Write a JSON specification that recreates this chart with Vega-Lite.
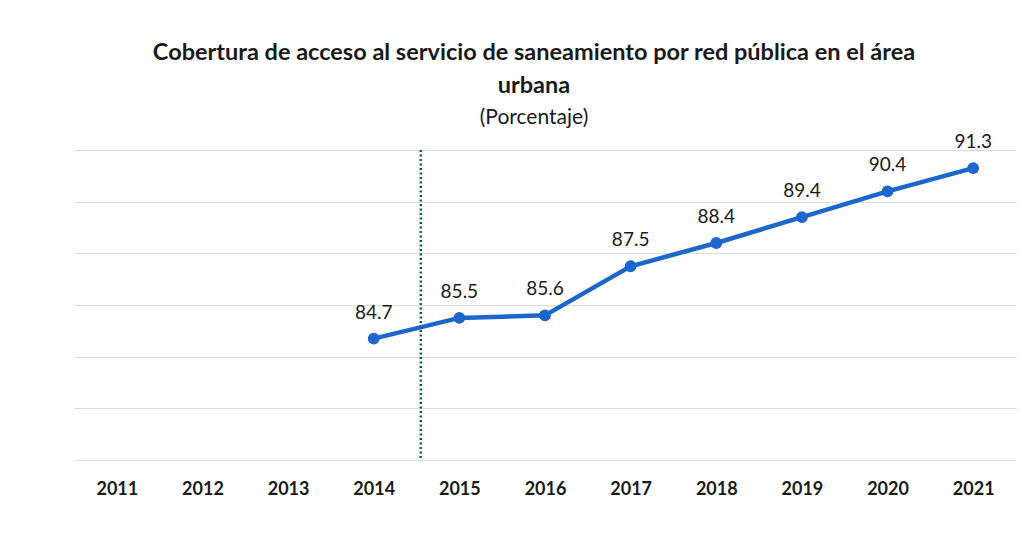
{
  "$schema": "https://vega.github.io/schema/vega-lite/v6.json",
  "width": 942,
  "height": 310,
  "autosize": {"type": "none"},
  "padding": {"left": 74, "top": 150, "right": 13, "bottom": 94},
  "background": "white",
  "title": {
    "text": ["Cobertura de acceso al servicio de saneamiento por red pública en el área", "urbana"],
    "subtitle": "(Porcentaje)",
    "anchor": "middle",
    "dx": -11,
    "font": "Lato",
    "fontSize": 23.5,
    "fontWeight": "bold",
    "color": "#1a1a1a",
    "lineHeight": 33,
    "subtitleFont": "Lato",
    "subtitleFontSize": 21,
    "subtitleColor": "#1a1a1a",
    "subtitlePadding": 10,
    "offset": 5
  },
  "datasets": {
    "serie": [
      {"anio": 2014, "valor": 84.7},
      {"anio": 2015, "valor": 85.5},
      {"anio": 2016, "valor": 85.6},
      {"anio": 2017, "valor": 87.5},
      {"anio": 2018, "valor": 88.4},
      {"anio": 2019, "valor": 89.4},
      {"anio": 2020, "valor": 90.4},
      {"anio": 2021, "valor": 91.3}
    ],
    "corte": [{"anio": 2014.55}]
  },
  "layer": [
    {
      "data": {"name": "corte"},
      "mark": {"type": "rule", "color": "#1d5a3c", "strokeWidth": 2.5, "strokeDash": [2, 2.5]},
      "encoding": {
        "x": {"field": "anio", "type": "quantitative", "scale": {"domain": [2010.5, 2021.5]}}
      }
    },
    {
      "data": {"name": "serie"},
      "mark": {"type": "line", "color": "#1c66cc", "strokeWidth": 4.5},
      "encoding": {
        "x": {
          "field": "anio",
          "type": "quantitative",
          "scale": {"domain": [2010.5, 2021.5], "nice": false, "zero": false},
          "axis": {
            "title": null,
            "values": [2011, 2012, 2013, 2014, 2015, 2016, 2017, 2018, 2019, 2020, 2021],
            "format": "d",
            "grid": false,
            "domain": false,
            "ticks": false,
            "labelFont": "Lato",
            "labelFontSize": 18,
            "labelFontWeight": "bold",
            "labelColor": "#1a1a1a",
            "labelPadding": 20
          }
        },
        "y": {
          "field": "valor",
          "type": "quantitative",
          "scale": {"domain": [80, 92], "nice": false, "zero": false},
          "axis": {
            "title": null,
            "values": [80, 82, 84, 86, 88, 90, 92],
            "labels": false,
            "ticks": false,
            "domain": false,
            "grid": true,
            "gridColor": "#dcdcdc",
            "gridWidth": 1
          }
        }
      }
    },
    {
      "data": {"name": "serie"},
      "mark": {"type": "point", "filled": true, "size": 140, "color": "#1c66cc", "opacity": 1},
      "encoding": {
        "x": {"field": "anio", "type": "quantitative"},
        "y": {"field": "valor", "type": "quantitative"}
      }
    },
    {
      "data": {"name": "serie"},
      "mark": {"type": "text", "dy": -26, "font": "Lato", "fontSize": 19, "color": "#1a1a1a"},
      "encoding": {
        "x": {"field": "anio", "type": "quantitative"},
        "y": {"field": "valor", "type": "quantitative"},
        "text": {"field": "valor", "type": "quantitative", "format": ".1f"}
      }
    }
  ],
  "config": {"view": {"stroke": null}}
}
